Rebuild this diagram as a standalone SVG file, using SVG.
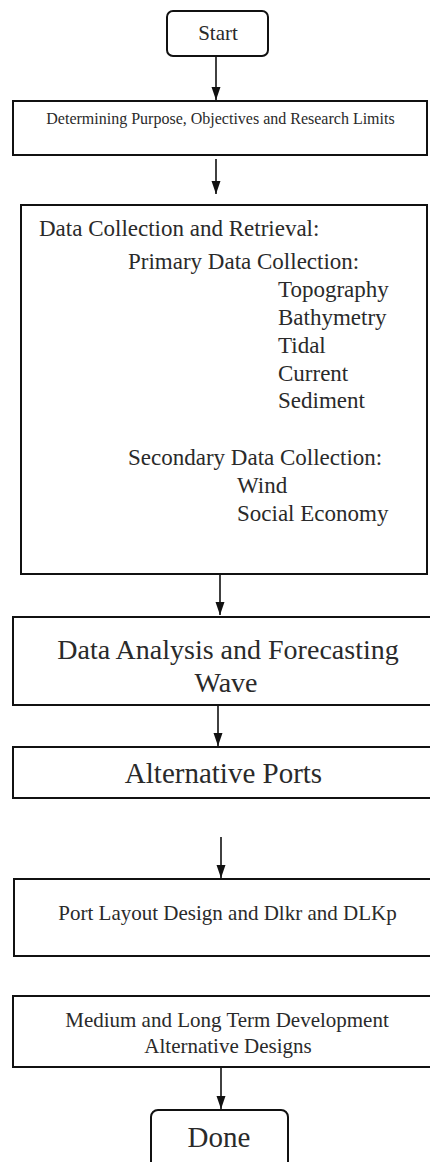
<svg xmlns="http://www.w3.org/2000/svg" width="430" height="1162" viewBox="0 0 430 1162">
<defs>
<marker id="ah" viewBox="0 -5 13 10" refX="13" refY="0" markerWidth="13" markerHeight="10" markerUnits="userSpaceOnUse" orient="auto">
<path d="M0,-4.5 L13,0 L0,4.5 z" fill="#111"/>
</marker>
<style>
.box{fill:#fff;stroke:#111;stroke-width:2}
.t{font-family:"Liberation Serif","Times New Roman",serif;fill:#2a2a2a}
.c{text-anchor:middle}
.edge{stroke:#111;stroke-width:1.6;fill:none;marker-end:url(#ah)}
</style>
</defs>
<rect width="430" height="1162" fill="#fff"/>
<g id="connectors">
<line class="edge" x1="216" y1="57" x2="216" y2="100"/>
<line class="edge" x1="216" y1="159" x2="216" y2="194"/>
<line class="edge" x1="220" y1="575" x2="220" y2="615"/>
<line class="edge" x1="218" y1="706" x2="218" y2="746"/>
<line class="edge" x1="221" y1="837" x2="221" y2="878"/>
<line class="edge" x1="221" y1="1068" x2="221" y2="1109"/>
</g>
<g id="start">
<rect class="box" x="167" y="11" width="101" height="45" rx="6"/>
<text class="t c" x="218" y="40" font-size="21">Start</text>
</g>
<g id="purpose">
<rect class="box" x="13" y="101" width="414" height="54"/>
<text class="t c" x="220.5" y="124" font-size="16">Determining Purpose, Objectives and Research Limits</text>
</g>
<g id="collection">
<rect class="box" x="21" y="205" width="406" height="369"/>
<text class="t" font-size="23">
<tspan x="39" y="236">Data Collection and Retrieval:</tspan>
<tspan x="128" y="269">Primary Data Collection:</tspan>
<tspan x="278" y="297">Topography</tspan>
<tspan x="278" y="325">Bathymetry</tspan>
<tspan x="278" y="353">Tidal</tspan>
<tspan x="278" y="381">Current</tspan>
<tspan x="278" y="408">Sediment</tspan>
<tspan x="128" y="465">Secondary Data Collection:</tspan>
<tspan x="237" y="493">Wind</tspan>
<tspan x="237" y="521">Social Economy</tspan>
</text>
</g>
<g id="analysis">
<rect class="box" x="13" y="617" width="425" height="88"/>
<text class="t c" font-size="28"><tspan x="228" y="659">Data Analysis and Forecasting</tspan><tspan x="226" y="692">Wave</tspan></text>
</g>
<g id="alternative">
<rect class="box" x="13" y="747" width="425" height="51"/>
<text class="t c" x="223.5" y="783" font-size="29">Alternative Ports</text>
</g>
<g id="layout">
<rect class="box" x="14" y="879" width="425" height="77"/>
<text class="t c" x="227.5" y="920" font-size="21">Port Layout Design and Dlkr and DLKp</text>
</g>
<g id="development">
<rect class="box" x="13" y="996" width="425" height="71"/>
<text class="t c" font-size="21"><tspan x="227" y="1027">Medium and Long Term Development</tspan><tspan x="228" y="1053">Alternative Designs</tspan></text>
</g>
<g id="done">
<rect class="box" x="151" y="1110" width="137" height="70" rx="7"/>
<text class="t c" x="219" y="1147" font-size="29">Done</text>
</g>
</svg>
